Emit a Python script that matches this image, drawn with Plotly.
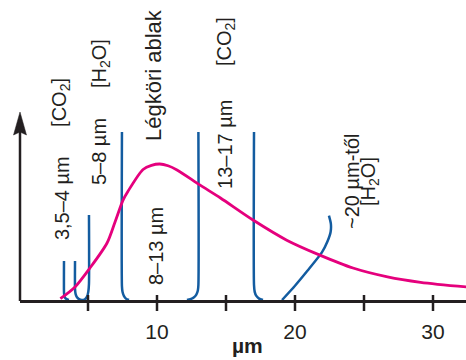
import plotly.graph_objects as go

# ---- data (wavelength in µm, relative intensity) ----
pink_x = [3.0, 4.06, 5.14, 6.38, 6.96, 7.54, 7.9, 8.99, 9.6, 10.2, 10.8, 11.45, 13.1, 14.6, 16.96, 19.4, 21.8, 24.2, 26.7, 29.1, 32.4]
pink_y = [0.01, 0.096, 0.235, 0.419, 0.574, 0.735, 0.8, 0.96, 0.99, 1.0, 0.987, 0.956, 0.846, 0.75, 0.588, 0.44, 0.33, 0.235, 0.17, 0.13, 0.096]

co2_a_x = [3.26, 3.26, 3.28, 3.35, 3.5, 3.62]
co2_a_y = [0.287, 0.06, 0.035, 0.015, 0.004, 0.0]

co2_b_x = [4.06, 4.06, 4.1, 4.2, 4.35, 4.56, 4.78, 4.93, 5.02, 5.07, 5.07]
co2_b_y = [0.287, 0.08, 0.045, 0.02, 0.006, 0.0, 0.006, 0.025, 0.06, 0.12, 0.625]

h2o_a_x = [7.46, 7.46, 7.5, 7.6, 7.75, 7.97]
h2o_a_y = [1.235, 0.1, 0.06, 0.03, 0.01, 0.0]

win_x = [13.0, 13.0, 12.96, 12.85, 12.66, 12.42, 12.17]
win_y = [1.235, 0.11, 0.07, 0.04, 0.018, 0.006, 0.0]

co2_c_x = [17.03, 17.03, 17.08, 17.2, 17.4, 17.68]
co2_c_y = [1.235, 0.11, 0.06, 0.03, 0.01, 0.0]

h2o_b_x = [19.06, 20.0, 20.9, 21.95, 22.35, 22.58, 22.6, 22.46]
h2o_b_y = [0.0, 0.105, 0.215, 0.35, 0.43, 0.5, 0.56, 0.62]

tick_vals = [5, 10, 15, 20, 25, 30]
label_vals = [10, 20, 30]
label_text = ["10", "20", "30"]

labels = ["[CO<sub>2</sub>]", "3,5–4 µm", "[H<sub>2</sub>O]", "5–8 µm", "Légköri ablak",
          "8–13 µm", "[CO<sub>2</sub>]", "13–17 µm", "~20 µm-től", "[H<sub>2</sub>O]"]
label_x = [3.04, 3.12, 5.87, 5.80, 9.71, 9.93, 14.93, 14.93, 24.13, 25.36]
label_y = [1.456, 0.75, 1.735, 1.088, 1.654, 0.397, 1.897, 1.14, 0.875, 0.875]
label_size = [20, 20, 20, 20, 22, 20, 20, 20, 20, 20]

PINK = "#e5007d"
BLUE = "#135ca0"
INK = "#231f20"
FONT = "Liberation Sans, Arial, sans-serif"

fig = go.Figure()

for bx, by in [(co2_a_x, co2_a_y), (co2_b_x, co2_b_y), (h2o_a_x, h2o_a_y),
               (win_x, win_y), (co2_c_x, co2_c_y), (h2o_b_x, h2o_b_y)]:
    fig.add_trace(go.Scatter(x=bx, y=by, mode="lines",
                             line=dict(color=BLUE, width=2.5, shape="spline", smoothing=0.6),
                             cliponaxis=False, hoverinfo="skip"))

fig.add_trace(go.Scatter(x=pink_x, y=pink_y, mode="lines",
                         line=dict(color=PINK, width=2.8, shape="spline", smoothing=0.8),
                         cliponaxis=False, hoverinfo="skip"))

W, H = 466, 360
ML, MB = 20, 60
px_per_um = 13.8
x0 = (ML - 19) / px_per_um
x1 = (W - 19) / px_per_um

fig.update_layout(
    width=W, height=H,
    margin=dict(l=ML, r=0, t=0, b=MB),
    paper_bgcolor="white", plot_bgcolor="white",
    showlegend=False,
    font=dict(family=FONT, size=20, color=INK),
    xaxis=dict(range=[x0, x1], showgrid=False, zeroline=False,
               showline=True, linecolor=INK, linewidth=2.5,
               ticks="outside", ticklen=11, tickwidth=2.5, tickcolor="rgba(0,0,0,0)",
               tickvals=label_vals, ticktext=label_text,
               tickfont=dict(family=FONT, size=21, color=INK)),
    yaxis=dict(range=[0, 300 / 136], showgrid=False, zeroline=False,
               showline=False, showticklabels=False, ticks=""),
)

# tick marks crossing the axis
for v in tick_vals:
    fig.add_shape(type="line", xref="x", yref="paper", x0=v, x1=v, y0=-11 / 300, y1=5 / 300,
                  line=dict(color=INK, width=2.5))

# vertical axis with arrow head
fig.add_shape(type="line", xref="paper", yref="paper", x0=0, x1=0, y0=-1 / 300, y1=(300 - 130) / 300,
              line=dict(color=INK, width=2.5))
tip = (300 - 112) / 300
base = (300 - 135) / 300
hw = 6.5 / (W - ML)
fig.add_shape(type="path", xref="paper", yref="paper",
              path=f"M 0 {tip} L {hw} {base} L 0 {base + 3/300} L {-hw} {base} Z",
              fillcolor=INK, line=dict(color=INK, width=0.5))

for t, lx, ly, ls in zip(labels, label_x, label_y, label_size):
    fig.add_annotation(text=t, x=lx, y=ly, xref="x", yref="y", showarrow=False,
                       textangle=-90, font=dict(family=FONT, size=ls, color=INK))

fig.add_annotation(text="<b>µm</b>", x=(247 - 19) / px_per_um, y=(300 - 345) / 300,
                   xref="x", yref="paper", showarrow=False, yanchor="middle", borderpad=0,
                   font=dict(family=FONT, size=21, color=INK))

fig.write_html("out.html")
